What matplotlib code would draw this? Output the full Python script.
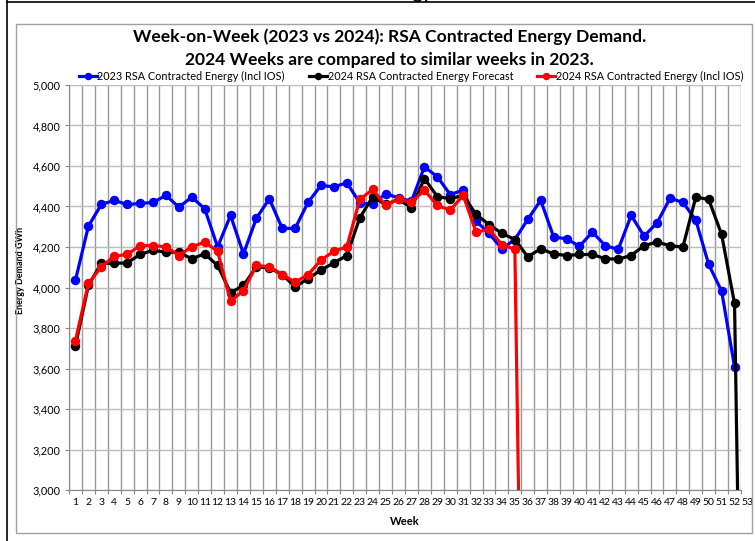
import matplotlib
matplotlib.use("Agg")
import matplotlib.pyplot as plt
from matplotlib.patches import Rectangle
from matplotlib.lines import Line2D
from matplotlib.transforms import offset_copy

plt.rcParams['font.family'] = ['Lato', 'DejaVu Sans']

# week numbers and data (GWh)
weeks = list(range(1, 54))
week_labels = [str(w) for w in weeks]

energy_2023 = [4036, 4303, 4410, 4430, 4410, 4415, 4420, 4455, 4397, 4446,
               4389, 4200, 4356, 4166, 4342, 4438, 4292, 4292, 4421, 4504,
               4497, 4517, 4418, 4410, 4463, 4443, 4426, 4596, 4547, 4459,
               4481, 4328, 4267, 4191, 4237, 4336, 4431, 4250, 4240, 4204,
               4273, 4207, 4188, 4356, 4254, 4319, 4440, 4421, 4333, 4114,
               3982, 3608]
forecast_2024 = [3713, 4010, 4119, 4119, 4122, 4163, 4184, 4174, 4174, 4142,
                 4166, 4109, 3974, 4010, 4102, 4097, 4064, 4003, 4044, 4086,
                 4122, 4158, 4344, 4448, 4410, 4435, 4394, 4538, 4449, 4438,
                 4455, 4361, 4311, 4267, 4237, 4152, 4191, 4166, 4158, 4163,
                 4163, 4142, 4140, 4158, 4207, 4224, 4207, 4199, 4446, 4435,
                 4262, 3921, 0]
energy_2024 = [3738, 4020, 4102, 4155, 4163, 4207, 4207, 4201, 4158, 4201,
               4224, 4179, 3932, 3985, 4109, 4102, 4064, 4026, 4064, 4135,
               4179, 4201, 4435, 4484, 4405, 4438, 4421, 4481, 4405, 4382,
               4455, 4273, 4287, 4212, 4188, 0]

series = [
    ("2023 RSA Contracted Energy (Incl IOS)", energy_2023, "#0000ff"),
    ("2024 RSA Contracted Energy Forecast", forecast_2024, "#000000"),
    ("2024 RSA Contracted Energy (Incl IOS)", energy_2024, "#ff0000"),
]

fig = plt.figure(figsize=(7.55, 5.41), dpi=100)
W, H = 755, 541

# chart frame (outer black lines + grey chart border)
fig.add_artist(Line2D([7 / W, 7 / W], [0, 1], color='black', lw=1.2))
fig.add_artist(Line2D([7 / W, 1], [1 - 2 / H, 1 - 2 / H], color='black', lw=1.2))
fig.add_artist(Rectangle((16 / W, 1 - 533 / H), (752 - 16) / W, (533 - 24) / H,
                         fill=False, edgecolor='#a0a0a0', lw=1.0))
# descenders of a title cut off above the image
fig.text(432 / W, 1 + 1 / H, "Energy", ha='right', va='baseline',
         fontsize=13, fontweight='bold')

ax = fig.add_axes([69 / W, 1 - 490 / H, (741 - 69) / W, (490 - 85) / H])

for name, vals, col in series:
    ax.plot(weeks[:len(vals)], vals, color=col, lw=2.3, marker='o',
            markersize=5.8, label=name, zorder=3)

ax.set_xlim(0.5, 52.5)
ax.set_ylim(3000, 5000)
ax.set_yticks(range(3000, 5001, 200))
ax.set_yticklabels([f"{v:,}" for v in range(3000, 5001, 200)], fontsize=7.8)

# category boundaries carry ticks + gridlines, labels sit in the middle
ax.set_xticks([w + 0.5 for w in range(0, 53)])
ax.set_xticklabels([])
ax.set_xticks(weeks[:52], minor=True)
ax.set_xticklabels(week_labels[:52], minor=True, fontsize=7.5)
ax.tick_params(axis='x', which='minor', length=0, pad=6)
ax.tick_params(axis='x', which='major', length=3, color='#888888')
ax.tick_params(axis='y', length=3, color='#888888', pad=3)
# last category label hangs past the plot edge
ax.text(weeks[52], 3000, week_labels[52], fontsize=7.5, ha='center', va='top',
        clip_on=False,
        transform=offset_copy(ax.transData, fig=fig, x=0, y=-6, units='points'))

ax.grid(True, which='major', axis='x', color='#999999', lw=1.0)
ax.grid(True, which='major', axis='y', color='#bbbbbb', lw=1.0)
ax.set_axisbelow(True)
for s in ['top', 'right']:
    ax.spines[s].set_visible(False)
for s in ['left', 'bottom']:
    ax.spines[s].set_color('#888888')

ax.set_xlabel("Week", fontsize=8, fontweight='bold', labelpad=6)
ax.set_ylabel("Energy Demand GWh", fontsize=6.5, fontweight='bold')
ax.yaxis.set_label_coords((25 - 69) / 672, (490 - 270) / 405)

fig.text(0.516, 1 - 37 / H, "Week-on-Week (2023 vs 2024): RSA Contracted Energy Demand.",
         ha='center', va='center', fontsize=12.6, fontweight='bold')
fig.text(0.516, 1 - 60 / H, "2024 Weeks are compared to similar weeks in 2023.",
         ha='center', va='center', fontsize=12.6, fontweight='bold')

fig.legend(loc='center', bbox_to_anchor=(411 / W, 1 - 76 / H), ncol=3,
           frameon=False, fontsize=7.8, handlelength=1.65, handletextpad=0.08,
           columnspacing=2.2, markerscale=0.75, borderpad=0.2)

plt.savefig('out.png', dpi=100)
